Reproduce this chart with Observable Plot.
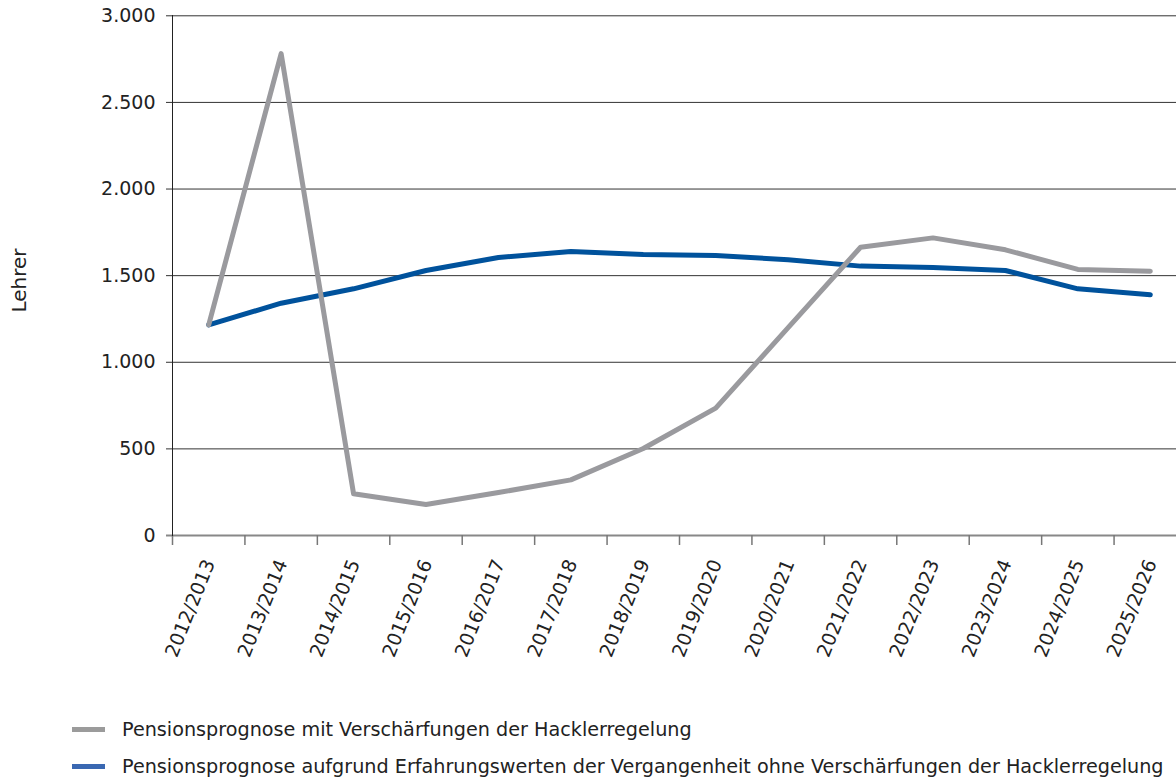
<!DOCTYPE html>
<html>
<head>
<meta charset="utf-8">
<script src="https://cdn.jsdelivr.net/npm/d3@7"></script>
<script src="https://cdn.jsdelivr.net/npm/@observablehq/plot@0.6"></script>
<style>
  body { margin: 0; background: white; font-family: "DejaVu Sans", sans-serif; }
  #wrap { position: relative; width: 1176px; height: 778px; overflow: hidden; }
  .legend { position: absolute; left: 0; top: 700px; width: 1176px; }
  .item { position: absolute; left: 72px; height: 24px; display: flex; align-items: center; white-space: nowrap; font-size: 19.2px; color: #222; }
  .sw { width: 33px; height: 5px; margin-right: 17px; }
</style>
</head>
<body>
<div id="wrap">
  <div id="chart"></div>
  <div class="legend" id="legend"></div>
</div>
<script>
const years = ["2012/2013","2013/2014","2014/2015","2015/2016","2016/2017","2017/2018","2018/2019","2019/2020","2020/2021","2021/2022","2022/2023","2023/2024","2024/2025","2025/2026"];
const grayValues = [1216, 2782, 241, 179, 248, 321, 502, 735, 1200, 1664, 1718, 1649, 1536, 1526];
const blueValues = [1216, 1341, 1424, 1530, 1605, 1639, 1622, 1616, 1592, 1555, 1547, 1530, 1424, 1390];
const yTicks = [0, 500, 1000, 1500, 2000, 2500, 3000];
const seriesNames = ["Pensionsprognose mit Verschärfungen der Hacklerregelung", "Pensionsprognose aufgrund Erfahrungswerten der Vergangenheit ohne Verschärfungen der Hacklerregelung"];
const lineColors = ["#9a9a9e", "#00529c"];
const legendColors = ["#9b9b9b", "#3a68b2"];
const yTitle = "Lehrer";

const de = d3.formatLocale({decimal: ",", thousands: ".", grouping: [3], currency: ["", " €"]});
const fmt = de.format(",");

const gray = years.map((y, i) => ({year: y, value: grayValues[i]}));
const blue = years.map((y, i) => ({year: y, value: blueValues[i]}));

const bw = (1186 - 172) / years.length;

const chart = Plot.plot({
  width: 1176,
  height: 700,
  marginTop: 15,
  marginBottom: 165,
  marginLeft: 172,
  marginRight: 0,
  style: {fontFamily: "DejaVu Sans, sans-serif", fontSize: "18px", color: "#222", background: "white"},
  x: {type: "point", domain: years, range: [172 + bw / 2, 1186 - bw / 2], padding: 0, round: false},
  y: {domain: [0, 3000], range: [535, 15.3]},
  marks: [
    Plot.gridY(yTicks.filter(d => d > 0), {stroke: "#333", strokeOpacity: 1, strokeWidth: 1}),
    Plot.axisY(yTicks.filter(d => d > 0), {tickSize: 6, tickPadding: 11, stroke: "#333", tickFormat: fmt, fontSize: 19, label: null}),
    Plot.axisY([0], {tickSize: 6, tickPadding: 11, stroke: "#888", strokeWidth: 2, tickFormat: fmt, fontSize: 19, label: null}),
    Plot.ruleY([0], {stroke: "#888", strokeWidth: 2}),
    Plot.axisX({tickSize: 10, dx: -bw / 2, stroke: "#777", strokeWidth: 1.5, text: null, label: null}),
    Plot.axisX({tickSize: 0, tickPadding: 25, tickRotate: -68, fontSize: 19, dx: 1, label: null}),
    Plot.frame({anchor: "left", stroke: "#222"}),
    Plot.line(blue, {x: "year", y: "value", stroke: lineColors[1], strokeWidth: 5}),
    Plot.line(gray, {x: "year", y: "value", stroke: lineColors[0], strokeWidth: 5}),
    Plot.text([yTitle], {frameAnchor: "left", textAnchor: "middle", rotate: -90, dx: -153, dy: 5, fontSize: 20, fill: "#222"})
  ]
});
document.getElementById("chart").appendChild(chart);

const legend = document.getElementById("legend");
seriesNames.forEach((name, i) => {
  const item = document.createElement("div");
  item.className = "item";
  item.style.top = (17 + i * 37) + "px";
  const sw = document.createElement("span");
  sw.className = "sw";
  sw.style.background = legendColors[i];
  const t = document.createElement("span");
  t.textContent = name;
  item.appendChild(sw);
  item.appendChild(t);
  legend.appendChild(item);
});
</script>
</body>
</html>
